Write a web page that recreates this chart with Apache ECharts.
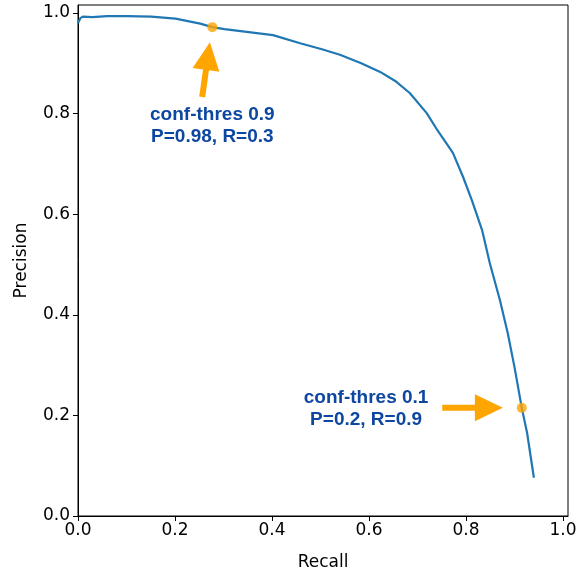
<!DOCTYPE html>
<html>
<head>
<meta charset="utf-8">
<script src="https://cdn.jsdelivr.net/npm/echarts@6/dist/echarts.min.js"></script>
<style>
  html, body { margin: 0; padding: 0; background: #fff; }
  #chart { width: 578px; height: 573px; }
</style>
</head>
<body>
<div id="chart"></div>
<script>
  // PR curve
  var recall    = [0, 0.005, 0.01, 0.03, 0.06, 0.101, 0.151, 0.201, 0.252, 0.277, 0.302, 0.352, 0.402, 0.458, 0.503, 0.540, 0.584, 0.623, 0.654, 0.684, 0.719, 0.741, 0.773, 0.794, 0.812, 0.833, 0.849, 0.870, 0.886, 0.900, 0.915, 0.926, 0.940];
  var precision = [0.98, 0.99, 0.993, 0.992, 0.994, 0.994, 0.993, 0.989, 0.979, 0.972, 0.968, 0.962, 0.956, 0.94, 0.928, 0.917, 0.9, 0.883, 0.865, 0.841, 0.801, 0.767, 0.722, 0.674, 0.628, 0.569, 0.503, 0.429, 0.364, 0.296, 0.215, 0.165, 0.076];

  // marked thresholds
  var markRecall    = [0.277, 0.915];
  var markPrecision = [0.972, 0.215];
  var markText = [['conf-thres 0.9', 'P=0.98, R=0.3'], ['conf-thres 0.1', 'P=0.2, R=0.9']];
  // text centre and arrow tail/tip, in data units
  var textPos   = [[0.277, 0.775], [0.594, 0.213]];
  var arrowTail = [[0.256, 0.833], [0.751, 0.215]];
  var arrowTip  = [[0.272, 0.942], [0.876, 0.215]];

  var tickLabels = ['0.0', '0.2', '0.4', '0.6', '0.8', '1.0'];

  var ORANGE = '#ffa500';
  var BLUE_TXT = '#0d47a1';

  var chart = echarts.init(document.getElementById('chart'));

  function fmt(v) {
    var i = Math.round(v / 0.2);
    if (Math.abs(v - i * 0.2) > 1e-6) return '';
    return tickLabels[i] || '';
  }

  var axisCommon = {
    type: 'value',
    min: 0,
    interval: 0.2,
    nameLocation: 'middle',
    nameTextStyle: { fontFamily: 'DejaVu Sans', fontSize: 17, color: '#000' },
    axisLine: { show: true, lineStyle: { color: '#000', width: 1 } },
    axisTick: { show: true, length: 5, lineStyle: { color: '#000' } },
    axisLabel: { formatter: fmt, fontFamily: 'DejaVu Sans', fontSize: 17, color: '#000', showMaxLabel: false },
    splitLine: { show: false }
  };

  var curve = recall.map(function (r, i) { return [r, precision[i]]; });
  var dots = markRecall.map(function (r, i) { return [r, markPrecision[i]]; });

  chart.setOption({
    animation: false,
    grid: { left: 78, right: 10, top: 5, bottom: 57, show: true, borderColor: '#000', borderWidth: 1,
      outerBoundsMode: 'none', containLabel: false },
    xAxis: Object.assign({}, axisCommon, { max: 1.0103, name: 'Recall', nameGap: 38,
      axisLabel: Object.assign({}, axisCommon.axisLabel, { margin: 6 }) }),
    yAxis: Object.assign({}, axisCommon, { max: 1.016, name: 'Precision', nameGap: 48,
      axisLabel: Object.assign({}, axisCommon.axisLabel, { margin: 8 }) }),
    series: [
      {
        type: 'line',
        data: curve,
        showSymbol: false,
        lineStyle: { color: '#1f77b4', width: 2.2 },
        z: 2
      },
      {
        type: 'scatter',
        data: dots,
        symbolSize: 10,
        itemStyle: { color: ORANGE },
        z: 3
      }
    ]
  });

  // arrow polygon between two pixel points
  function arrowPoints(a, b, shaftW, headW, headL) {
    var dx = b[0] - a[0], dy = b[1] - a[1];
    var len = Math.sqrt(dx * dx + dy * dy);
    var ux = dx / len, uy = dy / len;
    var nx = -uy, ny = ux;
    var bx = b[0] - ux * headL, by = b[1] - uy * headL;
    var s = shaftW / 2, h = headW / 2;
    return [
      [a[0] + nx * s, a[1] + ny * s],
      [bx + nx * s, by + ny * s],
      [bx + nx * h, by + ny * h],
      [b[0], b[1]],
      [bx - nx * h, by - ny * h],
      [bx - nx * s, by - ny * s],
      [a[0] - nx * s, a[1] - ny * s]
    ];
  }

  var els = [];
  for (var i = 0; i < markText.length; i++) {
    var t = chart.convertToPixel({ gridIndex: 0 }, textPos[i]);
    var a = chart.convertToPixel({ gridIndex: 0 }, arrowTail[i]);
    var b = chart.convertToPixel({ gridIndex: 0 }, arrowTip[i]);
    els.push({
      type: 'polygon',
      shape: { points: arrowPoints(a, b, 6, 27, 28) },
      style: { fill: ORANGE },
      z: 10
    });
    els.push({
      type: 'text',
      x: t[0], y: t[1],
      style: {
        text: markText[i].join('\n'),
        fill: BLUE_TXT,
        font: 'bold 19px "Liberation Sans", Arial, sans-serif',
        lineHeight: 22,
        align: 'center',
        verticalAlign: 'middle'
      },
      z: 10
    });
  }
  chart.setOption({ graphic: els });
</script>
</body>
</html>
